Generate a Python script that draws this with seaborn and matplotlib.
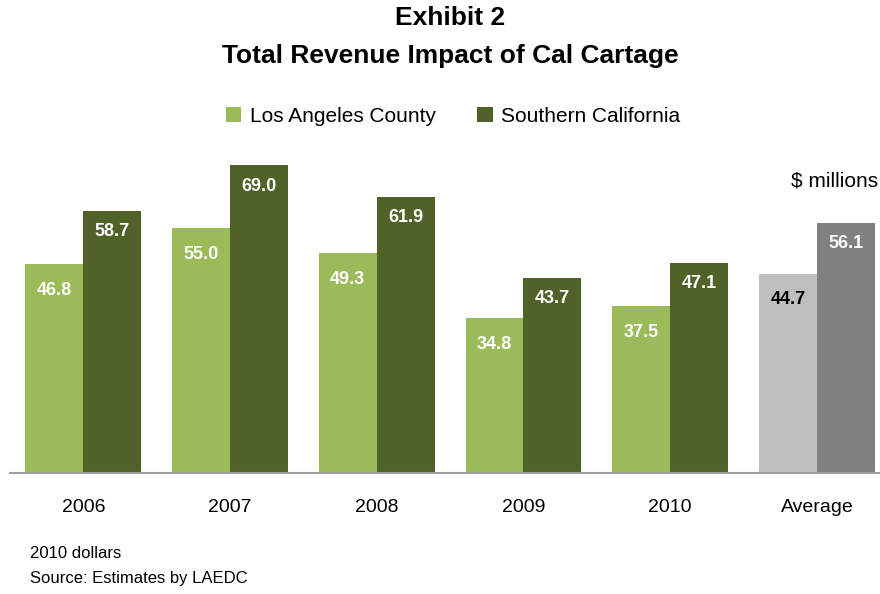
import matplotlib
matplotlib.use("Agg")
import matplotlib.pyplot as plt
import seaborn as sns
import pandas as pd
from matplotlib.patches import Patch

categories = ["2006", "2007", "2008", "2009", "2010", "Average"]
la_county = [46.8, 55.0, 49.3, 34.8, 37.5, 44.7]
so_cal = [58.7, 69.0, 61.9, 43.7, 47.1, 56.1]
series = ["Los Angeles County", "Southern California"]

df = pd.DataFrame({
    "year": categories * 2,
    "value": la_county + so_cal,
    "series": [series[0]] * len(categories) + [series[1]] * len(categories),
})

LIGHT = "#9BBB59"
DARK = "#4F6228"
GRAY_L = "#BFBFBF"
GRAY_D = "#808080"

sns.set_style("white")
plt.rcParams["font.family"] = ["Liberation Sans Narrow", "Liberation Sans", "DejaVu Sans"]
plt.rcParams["text.color"] = "black"
plt.rcParams["xtick.color"] = "black"
plt.rcParams["xtick.labelcolor"] = "black"

fig = plt.figure(figsize=(8.8, 5.94), dpi=100)
ax = fig.add_axes([10 / 880, (594 - 473) / 594, 870 / 880, 321 / 594])

sns.barplot(data=df, x="year", y="value", hue="series", order=categories,
            hue_order=series, palette=[LIGHT, DARK], width=0.79,
            saturation=1, ax=ax, legend=False, edgecolor="none")

ax.set_ylim(0, 72)
ax.set_xlim(-0.5, 5.43)

ax.containers[0][5].set_facecolor(GRAY_L)
ax.containers[1][5].set_facecolor(GRAY_D)

for ci, cont in enumerate(ax.containers):
    vals = la_county if ci == 0 else so_cal
    texts = ax.bar_label(cont, labels=[f"{v:.1f}" for v in vals],
                         padding=-25 if ci == 0 else -21,
                         color="white", fontsize=13, fontweight="bold")
    if ci == 0:
        texts[5].set_color("black")

for s in ["top", "right", "left"]:
    ax.spines[s].set_visible(False)
ax.spines["bottom"].set_color("#A0A0A0")
ax.spines["bottom"].set_linewidth(1.5)
ax.set_yticks([])
ax.set_xlabel("")
ax.set_ylabel("")
ax.tick_params(axis="x", length=0, labelsize=14, pad=19, labelcolor="black")

fig.text(450 / 880, 1 - 18 / 594, "Exhibit 2", ha="center", va="center",
         fontsize=19, fontweight="bold", color="black")
fig.text(450 / 880, 1 - 56 / 594, "Total Revenue Impact of Cal Cartage",
         ha="center", va="center", fontsize=19, fontweight="bold", color="black")

handles = [Patch(facecolor=LIGHT, edgecolor="none"), Patch(facecolor=DARK, edgecolor="none")]
leg = fig.legend(handles, series, loc="center", bbox_to_anchor=(453 / 880, 1 - 116 / 594),
                 ncol=2, frameon=False, fontsize=15, handlelength=0.75, handleheight=0.75,
                 handletextpad=0.4, columnspacing=2.0)
for t in leg.get_texts():
    t.set_color("black")

fig.text(878 / 880, 1 - 181 / 594, "$ millions", ha="right", va="center", fontsize=15,
         color="black")
fig.text(30 / 880, 1 - 553 / 594, "2010 dollars", ha="left", va="center", fontsize=12,
         color="black")
fig.text(30 / 880, 1 - 578 / 594, "Source: Estimates by LAEDC", ha="left",
         va="center", fontsize=12, color="black")

fig.savefig("out.png", dpi=100)
